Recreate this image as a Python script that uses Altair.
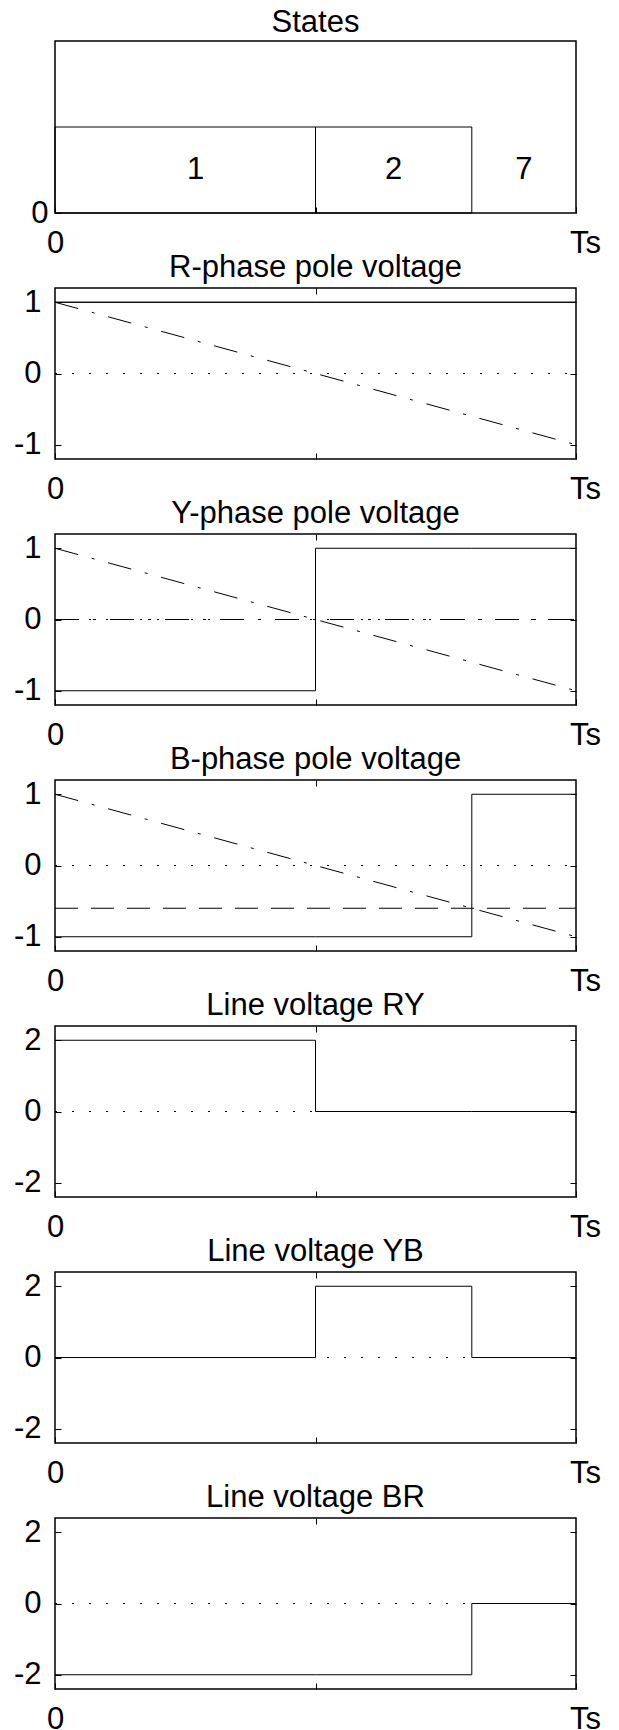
import altair as alt
import pandas as pd

FONT = "Liberation Sans"
FS = 31

# ---------------- data ----------------
titles = ["States", "R-phase pole voltage", "Y-phase pole voltage", "B-phase pole voltage",
          "Line voltage RY", "Line voltage YB", "Line voltage BR"]

# switching instants (fraction of Ts)
t_steps = [0.0, 0.5, 0.8, 1.0]

# states panel
state_names = ["1", "2", "7"]
state_start = [0.0, 0.5, 0.8]
state_end = [0.5, 0.8, 1.0]
state_level = [1, 1, 0]
state_base = [0, 0, 0]
state_label_x = [0.27, 0.65, 0.9]
state_label_y = [0.5, 0.5, 0.5]

# carrier (ramp) and zero line
carrier_t = [0.0, 1.0]
carrier_v = [1.0, -1.0]
zero_t = [0.0, 1.0]
zero_v = [0.0, 0.0]

# pole voltages (step-after at t_steps)
pole_R = [1, 1, 1, 1]
pole_Y = [-1, 1, 1, 1]
pole_B = [-1, -1, 1, 1]
# reference levels
ref_R = 1.0
ref_Y = 0.0
ref_B = -0.6

# line voltages (step-after at t_steps)
line_RY = [2, 0, 0, 0]
line_YB = [0, 2, 0, 0]
line_BR = [-2, -2, 0, 0]

x_ticks = [0, 0.5, 1]
pole_ticks = [-1, 0, 1]
line_ticks = [-2, 0, 2]
states_ticks = [0]
x_domain = [0, 1]
states_domain = [0, 2]
pole_domain = [-1.2, 1.2]
line_domain = [-2.4, 2.4]

W, H = 521, 171
TICK = 6

DOT = [2, 15]
DASHDOT = [24, 14, 3, 14]
DASH = [23, 13]

X_LABEL_EXPR = "datum.value == 0 ? '0' : (datum.value == 1 ? 'Ts' : '')"
Y_LABEL_EXPR = "datum.value < 0 ? '-' + toString(-datum.value) : toString(datum.value)"


def base_axis(orient, values, labels):
    return dict(orient=orient, values=values, offset=-TICK, tickSize=TICK, domain=False, grid=False,
                title=None, tickColor="black", tickWidth=1, labels=labels,
                minExtent=0, maxExtent=400)


def xs(orient=None, labels=True, values=x_ticks, field="t:Q"):
    sc = alt.Scale(domain=x_domain, nice=False, zero=False)
    if orient is None:
        return alt.X(field, scale=sc, axis=None)
    ax = base_axis(orient, values, labels)
    if labels:
        ax.update(labelExpr=X_LABEL_EXPR, labelFont=FONT, labelFontSize=FS, labelColor="black",
                  labelPadding=15, labelFlush=False, labelOverlap=False,
                  labelOffset={"condition": {"test": "datum.value == 1", "value": 9}, "value": 0})
    return alt.X(field, scale=sc, axis=alt.Axis(**ax))


def ys(domain, orient=None, labels=True, values=None, field="v:Q", pad=14):
    sc = alt.Scale(domain=domain, nice=False, zero=False)
    if orient is None:
        return alt.Y(field, scale=sc, axis=None)
    ax = base_axis(orient, values, labels)
    if labels:
        ax.update(labelExpr=Y_LABEL_EXPR, labelFont=FONT, labelFontSize=FS, labelColor="black",
                  labelPadding=pad, labelFlush=False, labelOverlap=False)
    return alt.Y(field, scale=sc, axis=alt.Axis(**ax))


def title(text):
    return alt.TitleParams(text=text, font=FONT, fontSize=FS, fontWeight="normal", color="black",
                           offset=-29, baseline="bottom", anchor="middle", frame="group")


def line_df(t, v):
    return pd.DataFrame({"t": t, "v": v})


def panel(ttl, domain, ticks, step_vals, ref=None, ref_dash=None, carrier=True):
    zero = alt.Chart(line_df(zero_t, zero_v)).mark_line(
        color="black", strokeWidth=1, strokeDash=DOT).encode(
        x=xs("bottom"), y=ys(domain, "left", values=ticks))
    layers = [zero]
    if carrier:
        layers.append(alt.Chart(line_df(carrier_t, carrier_v)).mark_line(
            color="black", strokeWidth=1, strokeDash=DASHDOT).encode(x=xs(), y=ys(domain)))
    if ref is not None:
        mk = dict(color="black", strokeWidth=1)
        if ref_dash is not None:
            mk["strokeDash"] = ref_dash
        layers.append(alt.Chart(line_df(zero_t, [ref, ref])).mark_line(**mk).encode(
            x=xs(), y=ys(domain)))
    layers.append(alt.Chart(line_df(t_steps, step_vals)).mark_line(
        color="black", strokeWidth=1, interpolate="step-after").encode(x=xs(), y=ys(domain)))
    layers.append(alt.Chart(line_df(zero_t, zero_v)).mark_line(opacity=0).encode(
        x=xs("top", labels=False, values=[0.5]), y=ys(domain, "right", labels=False, values=ticks)))
    return alt.layer(*layers).resolve_axis(x="independent", y="independent").properties(
        width=W, height=H, title=title(ttl))


# states panel
states_df = pd.DataFrame({"name": state_names, "start": state_start, "end": state_end,
                          "level": state_level, "base": state_base,
                          "lx": state_label_x, "ly": state_label_y})
rects = alt.Chart(states_df).transform_filter("datum.level > 0").mark_rect(
    fill="white", fillOpacity=0, stroke="black", strokeWidth=1).encode(
    x=xs("bottom", field="start:Q"),
    x2="end:Q",
    y=ys(states_domain, "left", values=states_ticks, field="level:Q", pad=7),
    y2="base:Q",
)
state_text = alt.Chart(states_df).mark_text(font=FONT, fontSize=FS, color="black",
                                            baseline="middle", align="center").encode(
    x=xs(field="lx:Q"),
    y=ys(states_domain, field="ly:Q"),
    text="name:N",
)
states_panel = alt.layer(rects, state_text).resolve_axis(x="independent", y="independent").properties(
    width=W, height=H + 1, title=title(titles[0]))

panels = [
    states_panel,
    panel(titles[1], pole_domain, pole_ticks, pole_R, ref=ref_R, ref_dash=None),
    panel(titles[2], pole_domain, pole_ticks, pole_Y, ref=ref_Y, ref_dash=DASHDOT),
    panel(titles[3], pole_domain, pole_ticks, pole_B, ref=ref_B, ref_dash=DASH),
    panel(titles[4], line_domain, line_ticks, line_RY, carrier=False),
    panel(titles[5], line_domain, line_ticks, line_YB, carrier=False),
    panel(titles[6], line_domain, line_ticks, line_BR, carrier=False),
]

chart = alt.vconcat(*panels, spacing=-8).properties(
    padding={"left": 12, "top": 6, "right": 4, "bottom": 0},
    background="white",
).configure_view(stroke="black", strokeWidth=1.5)

chart.save("out.html", embed_options={"renderer": "svg", "actions": False})
